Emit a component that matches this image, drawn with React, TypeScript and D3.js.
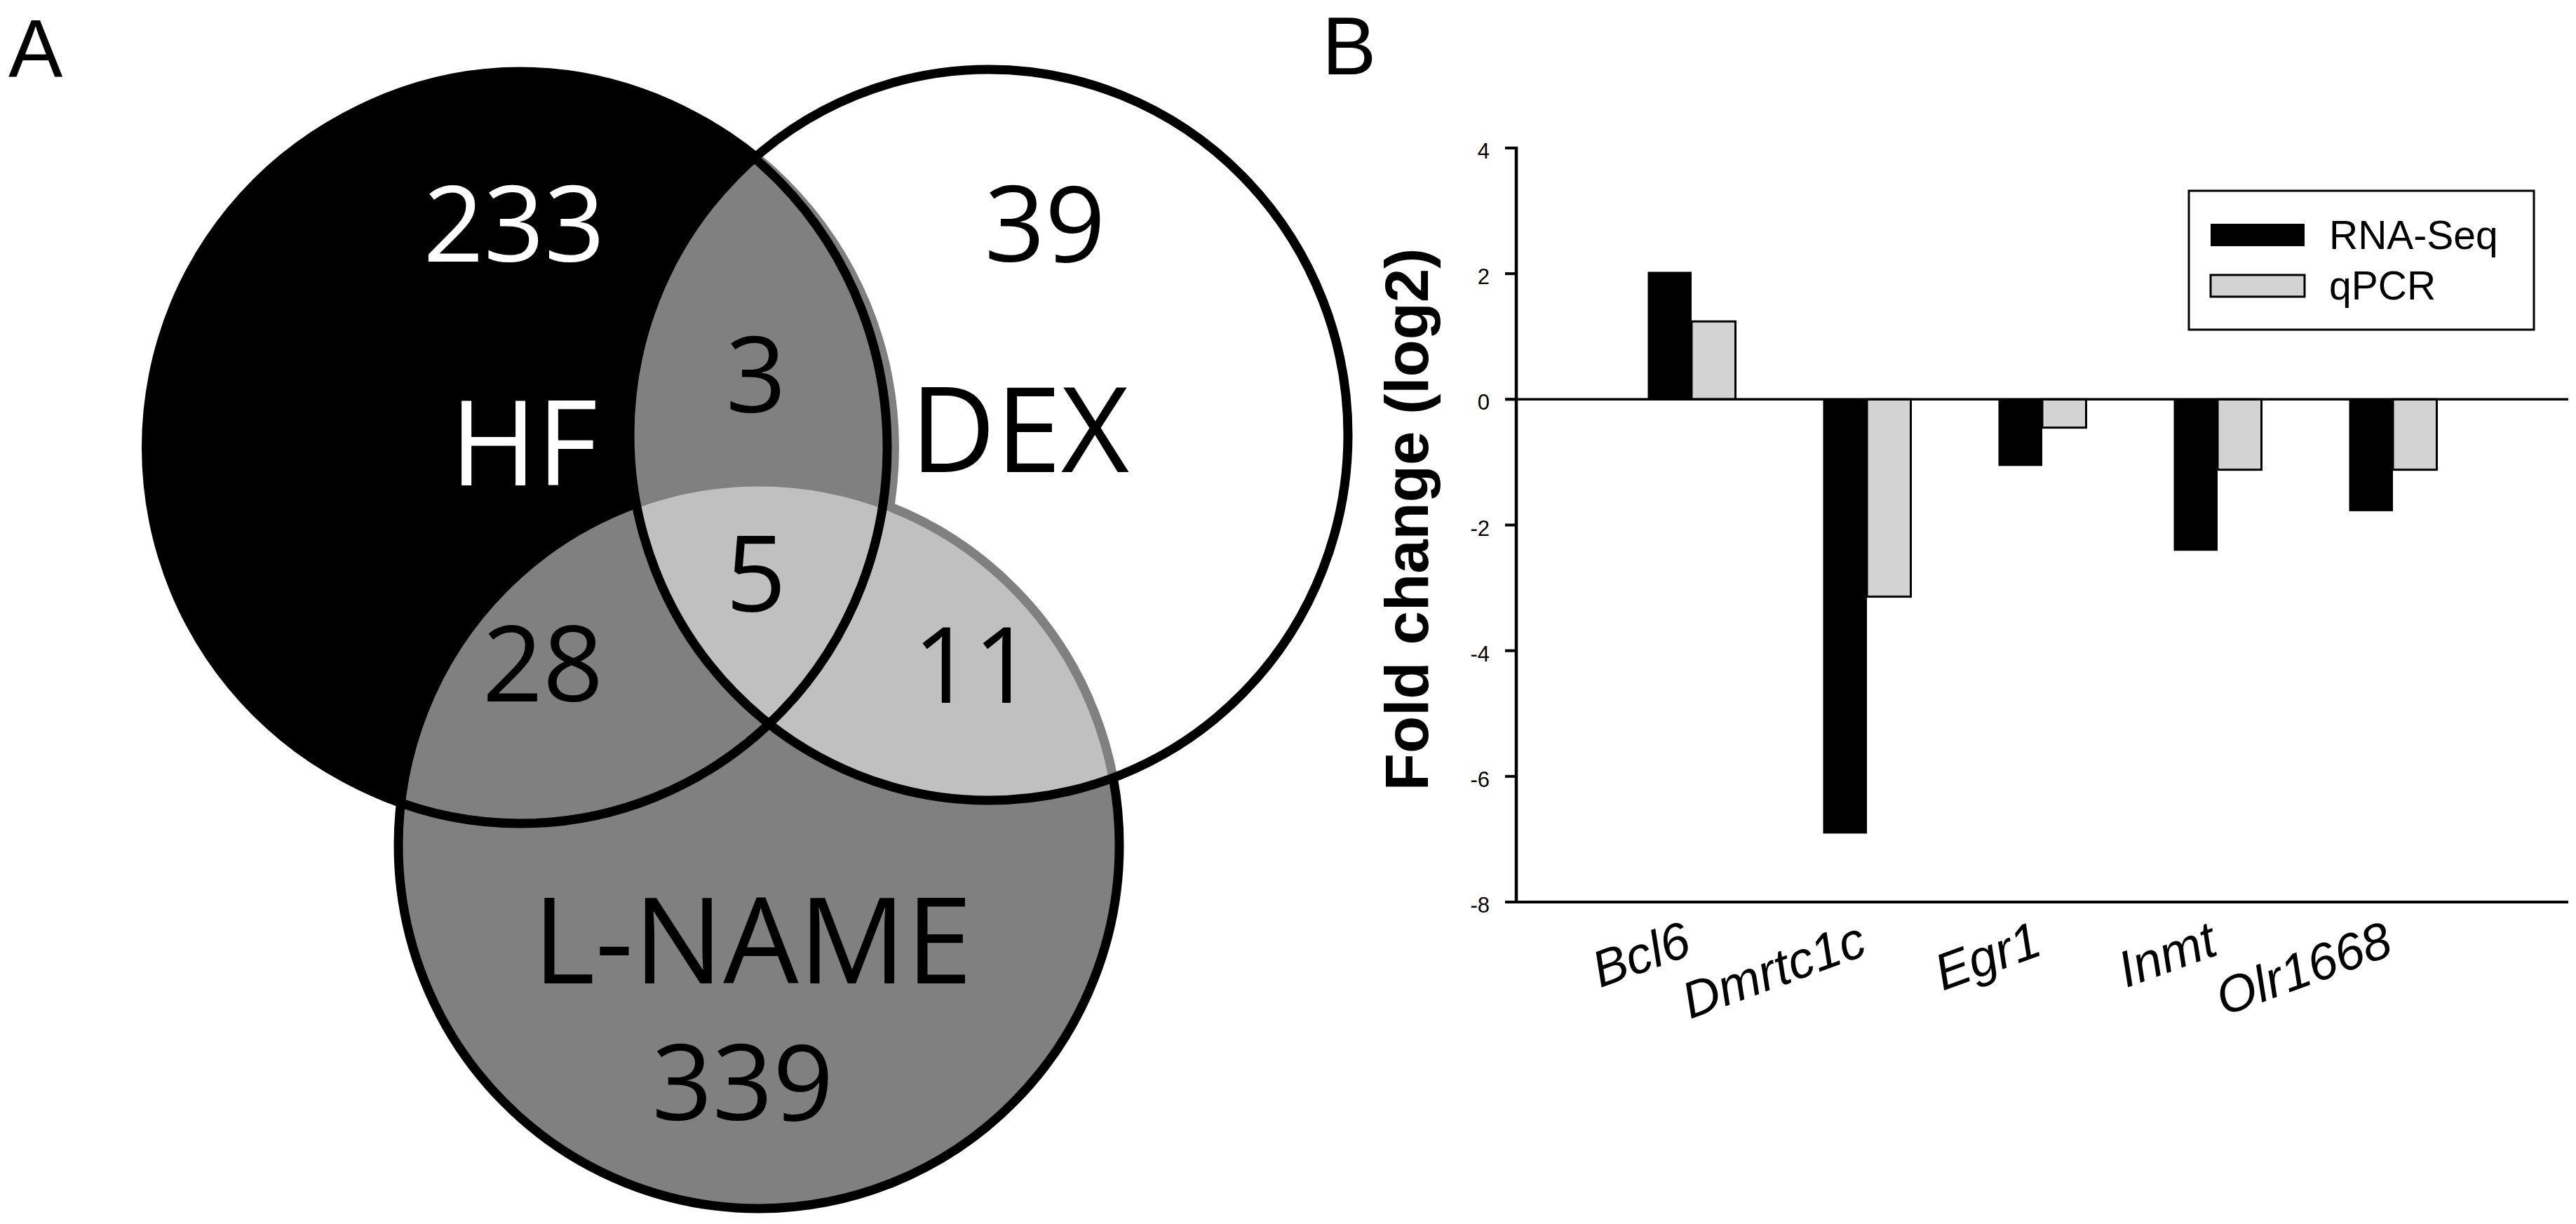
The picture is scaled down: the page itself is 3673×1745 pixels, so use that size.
import React from "react";
import * as d3 from "d3";

// ---------- Panel B data ----------
const genes = ["Bcl6", "Dmrtc1c", "Egr1", "Inmt", "Olr1668"];
const rnaSeq = [2.03, -6.91, -1.06, -2.41, -1.78];
const qpcr = [1.24, -3.14, -0.45, -1.12, -1.12];
const yTicks = [-8, -6, -4, -2, 0, 2, 4];
const seriesNames = ["RNA-Seq", "qPCR"];
const seriesFills = ["#000000", "#d3d3d3"];

// ---------- Panel A data ----------
const setNames = ["HF", "DEX", "L-NAME"];
const regionKeys = ["HF", "DEX", "L-NAME", "HF&DEX", "HF&L-NAME", "DEX&L-NAME", "HF&DEX&L-NAME"];
const regionCounts = [233, 39, 339, 3, 28, 11, 5];

const W = 3673;
const H = 1745;

// layout for venn (positions only)
const circleGeom: Record<string, { cx: number; cy: number; rx: number; ry: number }> = {
  HF: { cx: 742, cy: 638, rx: 523, ry: 536 },
  DEX: { cx: 1410, cy: 620, rx: 512, ry: 521 },
  "L-NAME": { cx: 1082, cy: 1205, rx: 514, ry: 518 },
};
const HF_FILL_R = 540;

const setLabelPos: Record<string, { x: number; y: number; size: number; color: string }> = {
  HF: { x: 747, y: 692, size: 168, color: "#ffffff" },
  DEX: { x: 1454, y: 673, size: 168, color: "#000000" },
  "L-NAME": { x: 1073, y: 1402, size: 170, color: "#000000" },
};
const regionPos: Record<string, { x: number; y: number; color: string }> = {
  HF: { x: 733, y: 373, color: "#ffffff" },
  DEX: { x: 1490, y: 373, color: "#000000" },
  "L-NAME": { x: 1059, y: 1597, color: "#000000" },
  "HF&DEX": { x: 1078, y: 588, color: "#000000" },
  "HF&L-NAME": { x: 774, y: 1000, color: "#000000" },
  "DEX&L-NAME": { x: 1388, y: 1002, color: "#000000" },
  "HF&DEX&L-NAME": { x: 1078, y: 872, color: "#000000" },
};

const venFont = "'Open Sans', 'Noto Sans', sans-serif";
const arial = "'Liberation Sans', Arial, sans-serif";

function Venn() {
  const hf = circleGeom.HF;
  const dex = circleGeom.DEX;
  const ln = circleGeom["L-NAME"];
  const sw = 13;
  return (
    <g>
      {/* HF filled disc */}
      <circle cx={hf.cx} cy={hf.cy} r={HF_FILL_R} fill="#000000" />
      {/* L-NAME */}
      <ellipse cx={ln.cx} cy={ln.cy} rx={ln.rx} ry={ln.ry} fill="#808080" stroke="#000" strokeWidth={sw} />
      {/* DEX translucent white */}
      <ellipse cx={dex.cx} cy={dex.cy} rx={dex.rx} ry={dex.ry} fill="#ffffff" fillOpacity={0.5} stroke="none" />
      <ellipse cx={dex.cx} cy={dex.cy} rx={dex.rx} ry={dex.ry} fill="none" stroke="#000" strokeWidth={sw} />
      {/* HF outline on top */}
      <ellipse cx={hf.cx} cy={hf.cy} rx={hf.rx} ry={hf.ry} fill="none" stroke="#000" strokeWidth={sw} />

      {regionKeys.map((k, i) => (
        <text
          key={k}
          x={regionPos[k].x}
          y={regionPos[k].y}
          textAnchor="middle"
          fontFamily={venFont}
          fontSize={151}
          fill={regionPos[k].color}
        >
          {regionCounts[i]}
        </text>
      ))}
      {setNames.map((s) => (
        <text
          key={s}
          x={setLabelPos[s].x}
          y={setLabelPos[s].y}
          textAnchor="middle"
          fontFamily={venFont}
          fontSize={setLabelPos[s].size}
          fill={setLabelPos[s].color}
        >
          {s}
        </text>
      ))}
    </g>
  );
}

function Bars() {
  const x = d3.scaleLinear().domain([0, genes.length + 1]).range([2162, 3662]);
  const y = d3.scaleLinear().domain([-8, 4]).range([1286, 211]);
  const bw = x(0.25) - x(0);
  const y0 = y(0);
  const tickLen = 16;
  const series = [rnaSeq, qpcr];
  return (
    <g>
      {/* bars */}
      {genes.map((g, i) => {
        const c = x(i + 1);
        return (
          <g key={g}>
            {series.map((vals, s) => {
              const v = vals[i];
              const top = Math.min(y(v), y0);
              const h = Math.abs(y(v) - y0);
              return (
                <rect
                  key={s}
                  x={s === 0 ? c - bw : c}
                  y={top}
                  width={bw}
                  height={h}
                  fill={seriesFills[s]}
                  stroke="#000"
                  strokeWidth={s === 0 ? 0 : 3}
                />
              );
            })}
          </g>
        );
      })}
      {/* zero line */}
      <line x1={x(0) - tickLen} x2={x(genes.length + 1)} y1={y0} y2={y0} stroke="#000" strokeWidth={3.5} />
      {/* bottom axis */}
      <line x1={x(0) - tickLen} x2={x(genes.length + 1)} y1={y(-8)} y2={y(-8)} stroke="#000" strokeWidth={4} />
      {/* y axis */}
      <line x1={x(0)} x2={x(0)} y1={y(4) - 2} y2={y(-8) + 2} stroke="#000" strokeWidth={4.5} />
      {yTicks.map((t) => (
        <g key={t}>
          <line x1={x(0) - tickLen} x2={x(0)} y1={y(t)} y2={y(t)} stroke="#000" strokeWidth={4} />
          <text x={x(0) - 38} y={y(t) + 15} textAnchor="end" fontFamily={arial} fontSize={31} fill="#000">
            {t}
          </text>
        </g>
      ))}
      {/* y title */}
      <text
        transform={`translate(2036, ${(y(4) + y(-8)) / 2 - 8}) rotate(-90)`}
        textAnchor="middle"
        fontFamily={arial}
        fontWeight="bold"
        fontSize={87}
        fill="#000"
      >
        Fold change (log2)
      </text>
      {/* category labels */}
      {genes.map((g, i) => (
        <text
          key={g}
          transform={`translate(${x(i + 1) + 3}, 1360) rotate(-20)`}
          textAnchor="end"
          fontFamily={arial}
          fontStyle="italic"
          fontSize={73}
          fill="#000"
        >
          {g}
        </text>
      ))}
      {/* legend */}
      <rect x={3121} y={272} width={492} height={198} fill="#fff" stroke="#000" strokeWidth={3} />
      {seriesNames.map((n, s) => (
        <g key={n}>
          <rect
            x={3152}
            y={s === 0 ? 319 : 392}
            width={134}
            height={s === 0 ? 32 : 31}
            fill={seriesFills[s]}
            stroke="#000"
            strokeWidth={s === 0 ? 0 : 3}
          />
          <text x={3321} y={s === 0 ? 355 : 427} fontFamily={arial} fontSize={57} fill="#000">
            {n}
          </text>
        </g>
      ))}
    </g>
  );
}

export default function App() {
  return (
    <div style={{ position: "absolute", left: 0, top: 0, width: W, height: H, background: "#fff" }}>
      <svg width={W} height={H} viewBox={`0 0 ${W} ${H}`} style={{ display: "block" }}>
        <rect x={0} y={0} width={W} height={H} fill="#fff" />
        <text x={12} y={110} fontFamily={arial} fontSize={116} fill="#000">A</text>
        <text x={1885} y={106} fontFamily={arial} fontSize={116} fill="#000">B</text>
        <Venn />
        <Bars />
      </svg>
    </div>
  );
}
